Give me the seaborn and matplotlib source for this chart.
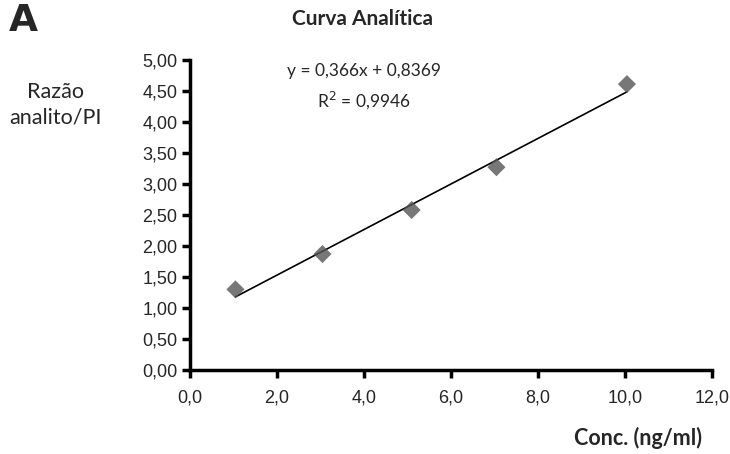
import numpy as np
import pandas as pd
import matplotlib
matplotlib.use("Agg")
import matplotlib.pyplot as plt
import seaborn as sns
from matplotlib.ticker import FuncFormatter

# data
conc = [1.05, 3.05, 5.1, 7.05, 10.05]
ratio = [1.30, 1.87, 2.58, 3.27, 4.61]
x_ticks = [0, 2, 4, 6, 8, 10, 12]
y_ticks = [0, 0.5, 1, 1.5, 2, 2.5, 3, 3.5, 4, 4.5, 5]
equation = "y = 0,366x + 0,8369"
r2_text = "R$^2$ = 0,9946"

df = pd.DataFrame({"conc": conc, "ratio": ratio})

sns.set_style("white")
plt.rcParams['font.family'] = ['Liberation Sans', 'DejaVu Sans']

fig = plt.figure(figsize=(7.30, 4.54), dpi=100)
ax = fig.add_axes([0.260, 0.185, 0.715, 0.683])

sns.regplot(data=df, x="conc", y="ratio", ax=ax, ci=None, truncate=True,
            marker="D",
            scatter_kws={"s": 85, "color": "#555555", "edgecolor": "none", "zorder": 3},
            line_kws={"color": "black", "linewidth": 1.2, "zorder": 2})

ax.set_xlim(0, 12)
ax.set_ylim(0, 5)
ax.set_xticks(x_ticks)
ax.set_yticks(y_ticks)
ax.xaxis.set_major_formatter(FuncFormatter(lambda v, p: f"{v:.1f}".replace(".", ",")))
ax.yaxis.set_major_formatter(FuncFormatter(lambda v, p: f"{v:.2f}".replace(".", ",")))
ax.tick_params(axis="both", which="major", direction="out", length=6, width=2.5,
               color="black", labelsize=13, pad=3, left=True, bottom=True)
ax.tick_params(axis="x", pad=8)
for side in ["top", "right"]:
    ax.spines[side].set_visible(False)
for side in ["left", "bottom"]:
    ax.spines[side].set_linewidth(2.5)
    ax.spines[side].set_color("black")
ax.set_xlabel("")
ax.set_ylabel("")

txt_font = ['Lato', 'DejaVu Sans']
ax.text(4.0, 4.82, equation, ha="center", va="center", fontsize=12.5, family=txt_font)
ax.text(4.0, 4.35, r2_text, ha="center", va="center", fontsize=12.5, family=txt_font)

fig.text(0.076, 0.769, "Razão\nanalito/PI", ha="center", va="center", fontsize=15.5,
         family=txt_font, linespacing=1.3)
fig.text(0.496, 0.958, "Curva Analítica", ha="center", va="center", fontsize=15,
         fontweight="bold", family=txt_font)
fig.text(0.012, 0.953, "A", ha="left", va="center", fontsize=27,
         fontweight="bold", family=['DejaVu Sans'])
fig.text(0.962, 0.035, "Conc. (ng/ml)", ha="right", va="center", fontsize=15.5,
         fontweight="bold", family=txt_font)

fig.savefig("out.png", dpi=100)
